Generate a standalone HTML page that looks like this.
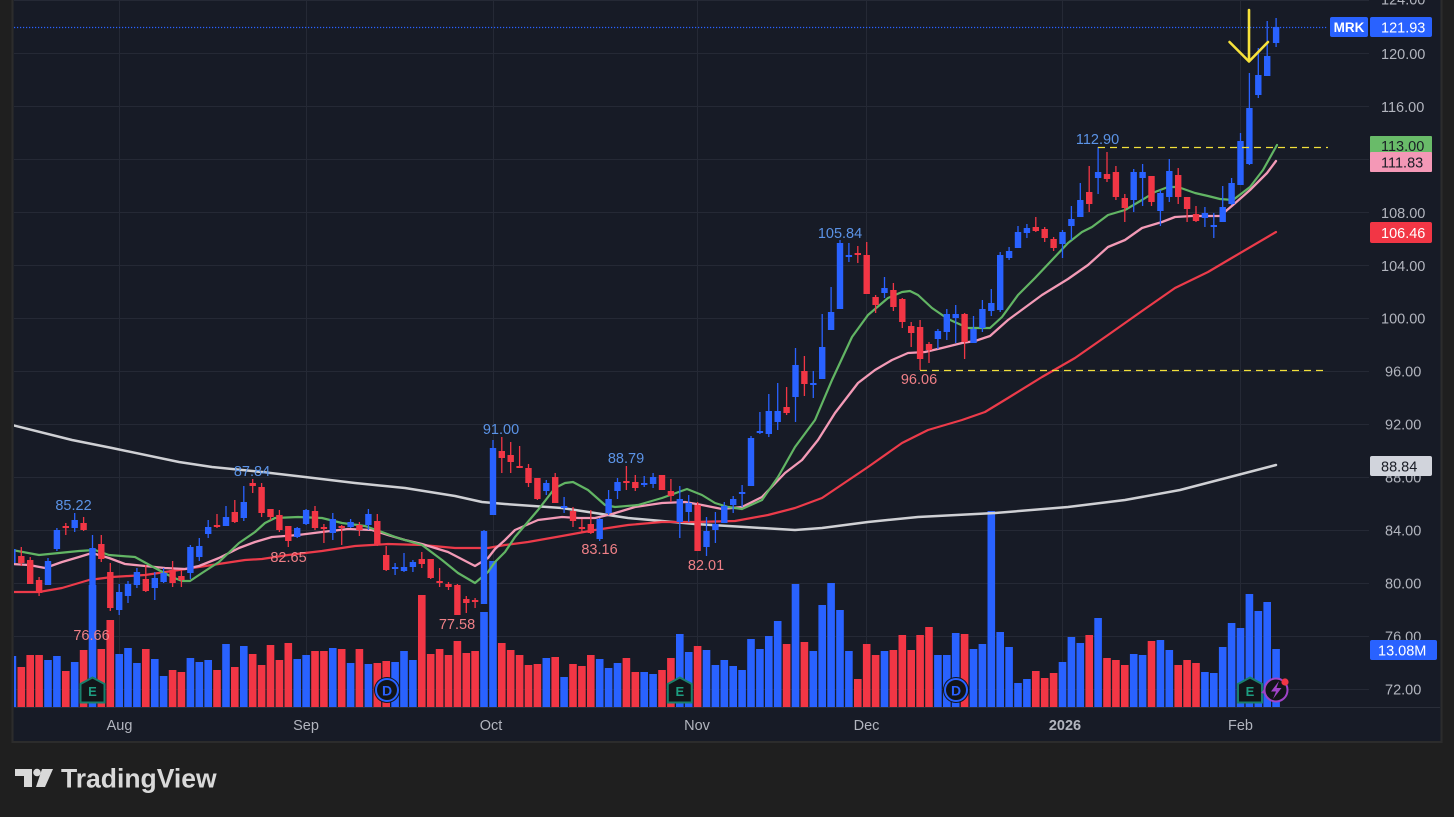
<!DOCTYPE html>
<html><head><meta charset="utf-8">
<style>
html,body{margin:0;padding:0;background:#1f1f1f;}
body{width:1454px;height:817px;overflow:hidden;font-family:"Liberation Sans",sans-serif;}
svg{display:block;}
</style></head>
<body>
<svg width="1454" height="817" viewBox="0 0 1454 817" xmlns="http://www.w3.org/2000/svg" font-family="Liberation Sans, sans-serif">
<defs>
<clipPath id="plot"><rect x="14" y="0" width="1355" height="707"/></clipPath>
</defs>
<rect x="0" y="0" width="1454" height="817" fill="#1f1f1f"/>
<rect x="12.5" y="-1" width="1429" height="743" fill="#171b26" stroke="#2c2c2c" stroke-width="2"/>

<!-- grid -->
<g stroke="#252935" stroke-width="1">
<path d="M14 0.5H1369 M14 53.5H1369 M14 106.5H1369 M14 159.5H1369 M14 212.5H1369 M14 265.5H1369 M14 318.5H1369 M14 371.5H1369 M14 424.5H1369 M14 477.5H1369 M14 530.5H1369 M14 583.5H1369 M14 636.5H1369 M14 689.5H1369"/>
<path d="M119.5 0V707 M306.5 0V707 M493.5 0V707 M697.5 0V707 M866.5 0V707 M1062.5 0V707 M1240.5 0V707"/>
</g>
<path d="M14 707.5H1440" stroke="#2a2e39" stroke-width="1"/>

<g clip-path="url(#plot)">
<!-- volume -->
<path fill="#2962ff" d="M8.6 707V656h7.6V707z M44.2 707V660h7.6V707z M53.1 707V656h7.6V707z M70.9 707V662h7.6V707z M88.7 707V585h7.6V707z M115.4 707V654h7.6V707z M124.2 707V648h7.6V707z M133.1 707V663h7.6V707z M151 707V659h7.6V707z M159.8 707V676h7.6V707z M186.6 707V658h7.6V707z M195.5 707V662h7.6V707z M204.4 707V660h7.6V707z M222.2 707V644h7.6V707z M240 707V646h7.6V707z M293.4 707V659h7.6V707z M302.3 707V655h7.6V707z M329 707V648h7.6V707z M346.8 707V663h7.6V707z M364.6 707V664h7.6V707z M391.3 707V662h7.6V707z M400.2 707V651h7.6V707z M409.1 707V660h7.6V707z M480.2 707V612h7.6V707z M489.2 707V561h7.6V707z M542.5 707V658h7.6V707z M560.3 707V677h7.6V707z M595.9 707V659h7.6V707z M604.8 707V668h7.6V707z M613.7 707V663h7.6V707z M640.4 707V672h7.6V707z M649.3 707V674h7.6V707z M676 707V634h7.6V707z M684.9 707V652h7.6V707z M702.7 707V650h7.6V707z M711.6 707V665h7.6V707z M720.5 707V660h7.6V707z M729.4 707V666h7.6V707z M738.3 707V670h7.6V707z M747.2 707V639h7.6V707z M756.1 707V649h7.6V707z M765 707V636h7.6V707z M773.9 707V621h7.6V707z M791.7 707V584h7.6V707z M809.5 707V651h7.6V707z M818.4 707V605h7.6V707z M827.3 707V583h7.6V707z M836.2 707V610h7.6V707z M845.1 707V651h7.6V707z M880.7 707V651h7.6V707z M934.1 707V655h7.6V707z M943 707V655h7.6V707z M951.9 707V633h7.6V707z M969.7 707V649h7.6V707z M978.6 707V644h7.6V707z M987.5 707V511h7.6V707z M996.4 707V632h7.6V707z M1005.3 707V647h7.6V707z M1014.2 707V683h7.6V707z M1023.1 707V679h7.6V707z M1058.7 707V662h7.6V707z M1067.6 707V637h7.6V707z M1076.5 707V643h7.6V707z M1094.3 707V618h7.6V707z M1129.9 707V654h7.6V707z M1138.8 707V655h7.6V707z M1156.6 707V640h7.6V707z M1165.5 707V650h7.6V707z M1201.1 707V672h7.6V707z M1210 707V673h7.6V707z M1218.9 707V647h7.6V707z M1227.8 707V623h7.6V707z M1236.7 707V628h7.6V707z M1245.6 707V594h7.6V707z M1254.5 707V611h7.6V707z M1263.4 707V602h7.6V707z M1272.3 707V649h7.6V707z"/>
<path fill="#f23645" d="M17.5 707V667h7.6V707z M26.4 707V655h7.6V707z M35.3 707V655h7.6V707z M62 707V671h7.6V707z M79.8 707V650h7.6V707z M97.5 707V649h7.6V707z M106.5 707V620h7.6V707z M142 707V649h7.6V707z M168.8 707V670h7.6V707z M177.6 707V672h7.6V707z M213.2 707V670h7.6V707z M231 707V667h7.6V707z M248.9 707V654h7.6V707z M257.8 707V665h7.6V707z M266.7 707V645h7.6V707z M275.6 707V660h7.6V707z M284.5 707V643h7.6V707z M311.2 707V651h7.6V707z M320.1 707V651h7.6V707z M337.9 707V649h7.6V707z M355.6 707V649h7.6V707z M373.5 707V663h7.6V707z M382.4 707V661h7.6V707z M418 707V595h7.6V707z M426.9 707V654h7.6V707z M435.8 707V649h7.6V707z M444.7 707V655h7.6V707z M453.6 707V641h7.6V707z M462.5 707V653h7.6V707z M471.3 707V651h7.6V707z M498 707V643h7.6V707z M506.9 707V650h7.6V707z M515.8 707V655h7.6V707z M524.7 707V665h7.6V707z M533.6 707V664h7.6V707z M551.4 707V657h7.6V707z M569.2 707V664h7.6V707z M578.1 707V666h7.6V707z M587 707V655h7.6V707z M622.6 707V658h7.6V707z M631.5 707V672h7.6V707z M658.2 707V670h7.6V707z M667.1 707V658h7.6V707z M693.8 707V646h7.6V707z M782.8 707V644h7.6V707z M800.6 707V642h7.6V707z M854 707V679h7.6V707z M862.9 707V644h7.6V707z M871.8 707V655h7.6V707z M889.6 707V650h7.6V707z M898.5 707V635h7.6V707z M907.4 707V650h7.6V707z M916.3 707V635h7.6V707z M925.2 707V627h7.6V707z M960.8 707V634h7.6V707z M1032 707V671h7.6V707z M1040.9 707V678h7.6V707z M1049.8 707V673h7.6V707z M1085.4 707V635h7.6V707z M1103.2 707V658h7.6V707z M1112.1 707V660h7.6V707z M1121 707V665h7.6V707z M1147.7 707V641h7.6V707z M1174.4 707V665h7.6V707z M1183.3 707V660h7.6V707z M1192.2 707V663h7.6V707z"/>

<!-- moving averages -->
<g fill="none" stroke-linejoin="round" stroke-linecap="round">
<polyline stroke="#cfd0d4" stroke-width="2.5" points="12,425 72,440 112,448 179,462 212,467 262,472 305,477 355,483 405,488 455,496 482,502 505,504 562,508 595,513 628,518 662,521 695,524 745,527 795,530 822,528 868,522 918,517 995,513 1068,507 1125,500 1180,490 1230,477 1276,465"/>
<polyline stroke="#ec3b4a" stroke-width="2.2" points="12,592 39,592 62,588 89,580 112,577 145,575 179,570 212,565 245,560 262,559 288,555 322,551 355,546 388,544 422,545 455,548 488,548 505,545 528,542 562,536 595,530 628,525 662,522 695,522 735,521 768,515 795,508 822,498 868,467 902,443 928,430 962,420 985,412 1008,398 1042,377 1075,358 1108,335 1142,311 1175,288 1208,272 1230,259 1276,232"/>
<polyline stroke="#f39ab6" stroke-width="2.3" points="12,564 29,565 45,568 62,562 79,557 92,553 109,558 125,564 145,566 165,568 185,569 199,566 219,558 239,548 255,542 272,537 298,535 322,532 348,529 372,530 388,535 405,540 422,544 448,552 475,566 488,558 495,549 505,540 515,530 538,520 562,517 578,518 595,518 612,514 635,507 662,503 685,502 702,505 722,509 742,507 762,497 785,473 802,460 818,440 835,413 858,383 875,370 892,360 908,353 925,352 942,348 962,343 975,341 990,336 1008,320 1042,295 1068,279 1088,265 1108,247 1125,240 1142,228 1162,222 1175,217 1192,216 1220,216 1233,205 1250,190 1267,173 1276,161"/>
<polyline stroke="#62b564" stroke-width="2.2" points="12,550 39,555 79,551 95,550 109,555 135,557 155,568 172,577 182,581 190,581 202,573 219,562 239,543 255,532 265,523 275,518 298,517 322,518 342,523 365,526 382,532 398,538 422,545 442,560 458,573 475,583 488,572 495,562 505,552 515,537 538,510 555,488 565,483 573,482 588,490 605,505 615,507 638,505 662,498 687,489 702,495 715,503 728,507 742,509 762,500 778,477 795,447 815,420 832,380 852,337 868,315 888,298 902,292 910,291 918,295 932,308 948,319 968,328 990,328 1002,317 1018,295 1035,278 1052,260 1068,243 1082,232 1092,227 1108,215 1125,210 1142,200 1155,192 1168,187 1178,187 1195,193 1208,196 1220,199 1233,200 1250,187 1263,170 1277,145"/>
</g>

<!-- wicks -->
<path stroke="#2962ff" stroke-width="1.3" fill="none" d="M12.4 549V563 M48 558V585 M56.9 528V551 M74.7 513V532 M92.5 535V627 M119.2 584V615 M128 581V603 M136.9 568V588 M154.8 572V600 M163.6 568V583 M190.4 545V579 M199.3 538V561 M208.2 520V538 M226 506V526 M243.8 486V521 M297.2 527V538 M306.1 509V525 M332.8 513V540 M350.6 519V528 M368.4 509V530 M395.1 563V575 M404 553V572 M412.9 560V572 M484 530V604 M493 440V515 M546.3 480V495 M564.1 497V513 M599.7 518V541 M608.6 490V515 M617.5 478V499 M644.2 476V487 M653.1 473V488 M679.8 486V538 M688.7 495V522 M706.5 517V556 M715.4 512V543 M724.3 502V523 M733.2 496V513 M742.1 485V507 M751 436V486 M759.9 412V434 M768.8 394V437 M777.7 383V430 M795.5 348V422 M813.3 371V398 M822.2 314V379 M831.1 287V330 M840 240V309 M848.9 243V262 M884.5 277V298 M937.9 329V349 M946.8 309V340 M955.7 305V343 M973.5 316V343 M982.4 300V332 M991.3 289V316 M1000.2 252V312 M1009.1 247V260 M1018 226V248 M1026.9 224V238 M1062.5 230V258 M1071.4 206V240 M1080.3 183V217 M1098.1 147V194 M1133.7 169V212 M1142.6 164V206 M1160.4 190V226 M1169.3 159V202 M1204.9 207V227 M1213.8 213V238 M1222.7 186V222 M1231.6 178V205 M1240.5 133V185 M1249.4 73V165 M1258.3 48V98 M1267.2 21V76 M1276.1 18V47"/>
<path stroke="#f23645" stroke-width="1.3" fill="none" d="M21.3 547V566 M30.2 557V584 M39.1 577V596 M65.8 523V535 M83.6 517V531 M101.3 535V562 M110.3 563V611 M145.8 565V592 M172.6 561V587 M181.4 570V587 M217 514V528 M234.8 500V523 M252.7 479V493 M261.6 483V517 M270.5 509V520 M279.4 510V532 M288.3 526V547 M315 506V530 M323.9 524V543 M341.7 525V545 M359.4 522V536 M377.3 514V546 M386.2 546V571 M421.8 552V568 M430.7 559V579 M439.6 568V587 M448.5 582V590 M457.4 584V615 M466.3 596V613 M475.1 598V608 M501.8 437V473 M510.7 442V473 M519.6 446V468 M528.5 464V487 M537.4 478V500 M555.2 473V503 M573 507V527 M581.9 519V532 M590.8 510V534 M626.4 466V490 M635.3 475V491 M662 475V490 M670.9 479V502 M697.6 502V551 M786.6 387V415 M804.4 356V396 M857.8 246V263 M866.7 242V294 M875.6 295V313 M893.4 283V311 M902.3 298V328 M911.2 322V347 M920.1 320V370 M929 342V363 M964.6 313V359 M1035.8 217V232 M1044.7 227V242 M1053.6 237V251 M1089.2 166V212 M1107 152V182 M1115.9 166V200 M1124.8 194V222 M1151.5 176V206 M1178.2 168V204 M1187.1 197V222 M1196 206V222"/>
<!-- bodies -->
<path fill="#2962ff" d="M9.2 549h6.4v14h-6.4z M44.8 561h6.4v24h-6.4z M53.7 530h6.4v19h-6.4z M71.5 520h6.4v8h-6.4z M89.3 548h6.4v52h-6.4z M116 592h6.4v18h-6.4z M124.8 584h6.4v12h-6.4z M133.7 572h6.4v13h-6.4z M151.6 578h6.4v10h-6.4z M160.4 573h6.4v9h-6.4z M187.2 547h6.4v26h-6.4z M196.1 546h6.4v11h-6.4z M205 527h6.4v7h-6.4z M222.8 517h6.4v9h-6.4z M240.6 502h6.4v16h-6.4z M294 528h6.4v9h-6.4z M302.9 510h6.4v14h-6.4z M329.6 519h6.4v14h-6.4z M347.4 522h6.4v5h-6.4z M365.2 514h6.4v11h-6.4z M391.9 567h6.4v2h-6.4z M400.8 567h6.4v4h-6.4z M409.7 562h6.4v5h-6.4z M480.8 531h6.4v73h-6.4z M489.8 448h6.4v67h-6.4z M543.1 483h6.4v8h-6.4z M560.9 506h6.4v2h-6.4z M596.5 519h6.4v20h-6.4z M605.4 499h6.4v14h-6.4z M614.3 482h6.4v9h-6.4z M641 483h6.4v2h-6.4z M649.9 477h6.4v7h-6.4z M676.6 499h6.4v23h-6.4z M685.5 503h6.4v9h-6.4z M703.3 531h6.4v16h-6.4z M712.2 524h6.4v6h-6.4z M721.1 506h6.4v17h-6.4z M730 499h6.4v6h-6.4z M738.9 492h6.4v2h-6.4z M747.8 438h6.4v48h-6.4z M756.7 431h6.4v2h-6.4z M765.6 411h6.4v23h-6.4z M774.5 411h6.4v11h-6.4z M792.3 365h6.4v32h-6.4z M810.1 383h6.4v2h-6.4z M819 347h6.4v32h-6.4z M827.9 312h6.4v18h-6.4z M836.8 243h6.4v66h-6.4z M845.7 255h6.4v2h-6.4z M881.3 288h6.4v5h-6.4z M934.7 331h6.4v8h-6.4z M943.6 314h6.4v18h-6.4z M952.5 314h6.4v4h-6.4z M970.3 329h6.4v14h-6.4z M979.2 309h6.4v19h-6.4z M988.1 303h6.4v8h-6.4z M997 255h6.4v55h-6.4z M1005.9 251h6.4v7h-6.4z M1014.8 232h6.4v16h-6.4z M1023.7 228h6.4v5h-6.4z M1059.3 232h6.4v12h-6.4z M1068.2 219h6.4v7h-6.4z M1077.1 200h6.4v17h-6.4z M1094.9 172h6.4v6h-6.4z M1130.5 172h6.4v28h-6.4z M1139.4 172h6.4v6h-6.4z M1157.2 193h6.4v18h-6.4z M1166.1 171h6.4v26h-6.4z M1201.7 213h6.4v5h-6.4z M1210.6 225h6.4v2h-6.4z M1219.5 207h6.4v15h-6.4z M1228.4 183h6.4v21h-6.4z M1237.3 141h6.4v44h-6.4z M1246.2 108h6.4v56h-6.4z M1255.1 75h6.4v20h-6.4z M1264 56h6.4v20h-6.4z M1272.9 27h6.4v16h-6.4z"/>
<path fill="#f23645" d="M18.1 556h6.4v7h-6.4z M27 560h6.4v24h-6.4z M35.9 580h6.4v13h-6.4z M62.6 526h6.4v2h-6.4z M80.4 523h6.4v7h-6.4z M98.1 544h6.4v15h-6.4z M107.1 572h6.4v36h-6.4z M142.6 579h6.4v12h-6.4z M169.4 570h6.4v13h-6.4z M178.2 576h6.4v4h-6.4z M213.8 525h6.4v2h-6.4z M231.6 512h6.4v10h-6.4z M249.5 483h6.4v3h-6.4z M258.4 487h6.4v26h-6.4z M267.3 509h6.4v8h-6.4z M276.2 515h6.4v15h-6.4z M285.1 526h6.4v15h-6.4z M311.8 511h6.4v17h-6.4z M320.7 527h6.4v2h-6.4z M338.5 526h6.4v2h-6.4z M356.2 525h6.4v5h-6.4z M374.1 521h6.4v23h-6.4z M383 555h6.4v15h-6.4z M418.6 559h6.4v5h-6.4z M427.5 559h6.4v19h-6.4z M436.4 581h6.4v2h-6.4z M445.3 584h6.4v3h-6.4z M454.2 585h6.4v30h-6.4z M463.1 599h6.4v4h-6.4z M471.9 600h6.4v2h-6.4z M498.6 451h6.4v7h-6.4z M507.5 455h6.4v7h-6.4z M516.4 466h6.4v2h-6.4z M525.3 468h6.4v15h-6.4z M534.2 478h6.4v21h-6.4z M552 477h6.4v26h-6.4z M569.8 511h6.4v10h-6.4z M578.7 527h6.4v2h-6.4z M587.6 524h6.4v9h-6.4z M623.2 481h6.4v2h-6.4z M632.1 482h6.4v6h-6.4z M658.8 475h6.4v15h-6.4z M667.7 491h6.4v5h-6.4z M694.4 505h6.4v46h-6.4z M783.4 407h6.4v6h-6.4z M801.2 371h6.4v13h-6.4z M854.6 253h6.4v2h-6.4z M863.5 255h6.4v39h-6.4z M872.4 297h6.4v8h-6.4z M890.2 290h6.4v17h-6.4z M899.1 299h6.4v23h-6.4z M908 326h6.4v7h-6.4z M916.9 327h6.4v32h-6.4z M925.8 344h6.4v6h-6.4z M961.4 314h6.4v28h-6.4z M1032.6 227h6.4v4h-6.4z M1041.5 229h6.4v9h-6.4z M1050.4 239h6.4v9h-6.4z M1086 192h6.4v12h-6.4z M1103.8 174h6.4v5h-6.4z M1112.7 172h6.4v25h-6.4z M1121.6 198h6.4v10h-6.4z M1148.3 176h6.4v26h-6.4z M1175 175h6.4v22h-6.4z M1183.9 197h6.4v12h-6.4z M1192.8 214h6.4v7h-6.4z"/>
</g>

<!-- price line & horizontal lines -->
<path d="M14 27.5H1328" stroke="#2962ff" stroke-width="1.2" stroke-dasharray="1.2 1.8"/>
<path d="M1098 147.5H1328" stroke="#f2df3a" stroke-width="1.3" stroke-dasharray="7 5"/>
<path d="M920 370.5H1328" stroke="#f2df3a" stroke-width="1.3" stroke-dasharray="7 5"/>

<!-- yellow arrow -->
<g stroke="#f7e23b" stroke-width="2.6" fill="none" stroke-linecap="round" stroke-linejoin="round">
<path d="M1249 10V61"/>
<path d="M1229.5 42L1249 61.5L1268 42"/>
</g>

<!-- high/low labels -->
<g font-size="14.5" text-anchor="middle">
<g fill="#5b93e6">
<text x="73.5" y="510">85.22</text>
<text x="252" y="476">87.84</text>
<text x="501" y="434">91.00</text>
<text x="626" y="463">88.79</text>
<text x="840" y="238">105.84</text>
<text x="1097.5" y="144">112.90</text>
</g>
<g fill="#ef8087">
<text x="288.5" y="562">82.65</text>
<text x="91.5" y="640">76.66</text>
<text x="457" y="629">77.58</text>
<text x="599.5" y="554">83.16</text>
<text x="706" y="570">82.01</text>
<text x="919" y="384">96.06</text>
</g>
</g>

<!-- event markers -->
<g>
<path d="M92.5 677.5L104.5 684V702.5H80.5V684Z" fill="#121519" stroke="#1a7f6b" stroke-width="2"/>
<text x="92.5" y="696" font-size="13" font-weight="bold" fill="#1d9d80" text-anchor="middle">E</text>
<path d="M679.8 677.5L691.8 684V702.5H667.8V684Z" fill="#121519" stroke="#1a7f6b" stroke-width="2"/>
<text x="679.8" y="696" font-size="13" font-weight="bold" fill="#1d9d80" text-anchor="middle">E</text>
<path d="M1250 677.5L1262 684V702.5H1238V684Z" fill="#121519" stroke="#1a7f6b" stroke-width="2"/>
<text x="1250" y="696" font-size="13" font-weight="bold" fill="#1d9d80" text-anchor="middle">E</text>

<circle cx="387" cy="690" r="13" fill="#121519"/>
<circle cx="387" cy="690" r="11" fill="#121519" stroke="#2962ff" stroke-width="2"/>
<text x="387" y="695.5" font-size="14" font-weight="bold" fill="#2962ff" text-anchor="middle">D</text>
<circle cx="956" cy="690" r="13" fill="#121519"/>
<circle cx="956" cy="690" r="11" fill="#121519" stroke="#2962ff" stroke-width="2"/>
<text x="956" y="695.5" font-size="14" font-weight="bold" fill="#2962ff" text-anchor="middle">D</text>

<path d="M1265 688L1261 693L1266 694Z" fill="#9c3fc0"/>
<circle cx="1276" cy="690" r="11.5" fill="#121519" stroke="#a043c8" stroke-width="2"/>
<path d="M1279 681L1271 691.5H1276L1273 699L1281.5 688H1276.5Z" fill="#a043c8"/>
<circle cx="1285" cy="682" r="3.6" fill="#f23645"/>
</g>

<!-- price axis labels -->
<g font-size="14.5" fill="#b2b5be">
<text x="1381" y="4.5">124.00</text>
<text x="1381" y="58.8">120.00</text>
<text x="1381" y="111.8">116.00</text>
<text x="1381" y="164.8">112.00</text>
<text x="1381" y="217.8">108.00</text>
<text x="1381" y="270.8">104.00</text>
<text x="1381" y="323.3">100.00</text>
<text x="1385" y="376.3">96.00</text>
<text x="1385" y="429.3">92.00</text>
<text x="1385" y="482.3">88.00</text>
<text x="1385" y="535.3">84.00</text>
<text x="1385" y="588.3">80.00</text>
<text x="1385" y="641.3">76.00</text>
<text x="1385" y="694.3">72.00</text>
</g>

<!-- right labels -->
<rect x="1330" y="17" width="38" height="20" rx="2" fill="#2962ff"/>
<text x="1349" y="32" font-size="13.5" font-weight="bold" fill="#ffffff" text-anchor="middle">MRK</text>
<rect x="1370" y="17" width="62" height="20" rx="2" fill="#2962ff"/>
<text x="1381" y="32.3" font-size="14.5" fill="#ffffff">121.93</text>
<rect x="1370" y="136" width="62" height="18" rx="1" fill="#69bb69"/>
<text x="1381" y="151" font-size="14.5" fill="#1a1d26">113.00</text>
<rect x="1370" y="152" width="62" height="20" rx="1" fill="#f498b6"/>
<text x="1381" y="167.3" font-size="14.5" fill="#1a1d26">111.83</text>
<rect x="1370" y="222" width="62" height="21" rx="2" fill="#f23645"/>
<text x="1381" y="237.8" font-size="14.5" fill="#ffffff">106.46</text>
<rect x="1370" y="456" width="62" height="20" rx="2" fill="#d1d4dc"/>
<text x="1381" y="471.3" font-size="14.5" fill="#1a1d26">88.84</text>
<rect x="1370" y="640" width="67" height="20" rx="2" fill="#2962ff"/>
<text x="1378" y="655.3" font-size="14.5" fill="#ffffff">13.08M</text>

<!-- time axis -->
<g font-size="14.5" fill="#b2b5be" text-anchor="middle">
<text x="119.5" y="730">Aug</text>
<text x="306" y="730">Sep</text>
<text x="491" y="730">Oct</text>
<text x="697" y="730">Nov</text>
<text x="866.5" y="730">Dec</text>
<text x="1065" y="730" font-weight="bold">2026</text>
<text x="1240.5" y="730">Feb</text>
</g>

<!-- TradingView logo -->
<g fill="#d9d9d9">
<path d="M15 769H32V787H24V776H15Z"/>
<circle cx="37" cy="772.5" r="3.8"/>
<path d="M42 769H53L45 787H36Z"/>
<text x="61" y="787.5" font-size="26.5" font-weight="bold" fill="#d9d9d9">TradingView</text>
</g>
</svg>
</body></html>
